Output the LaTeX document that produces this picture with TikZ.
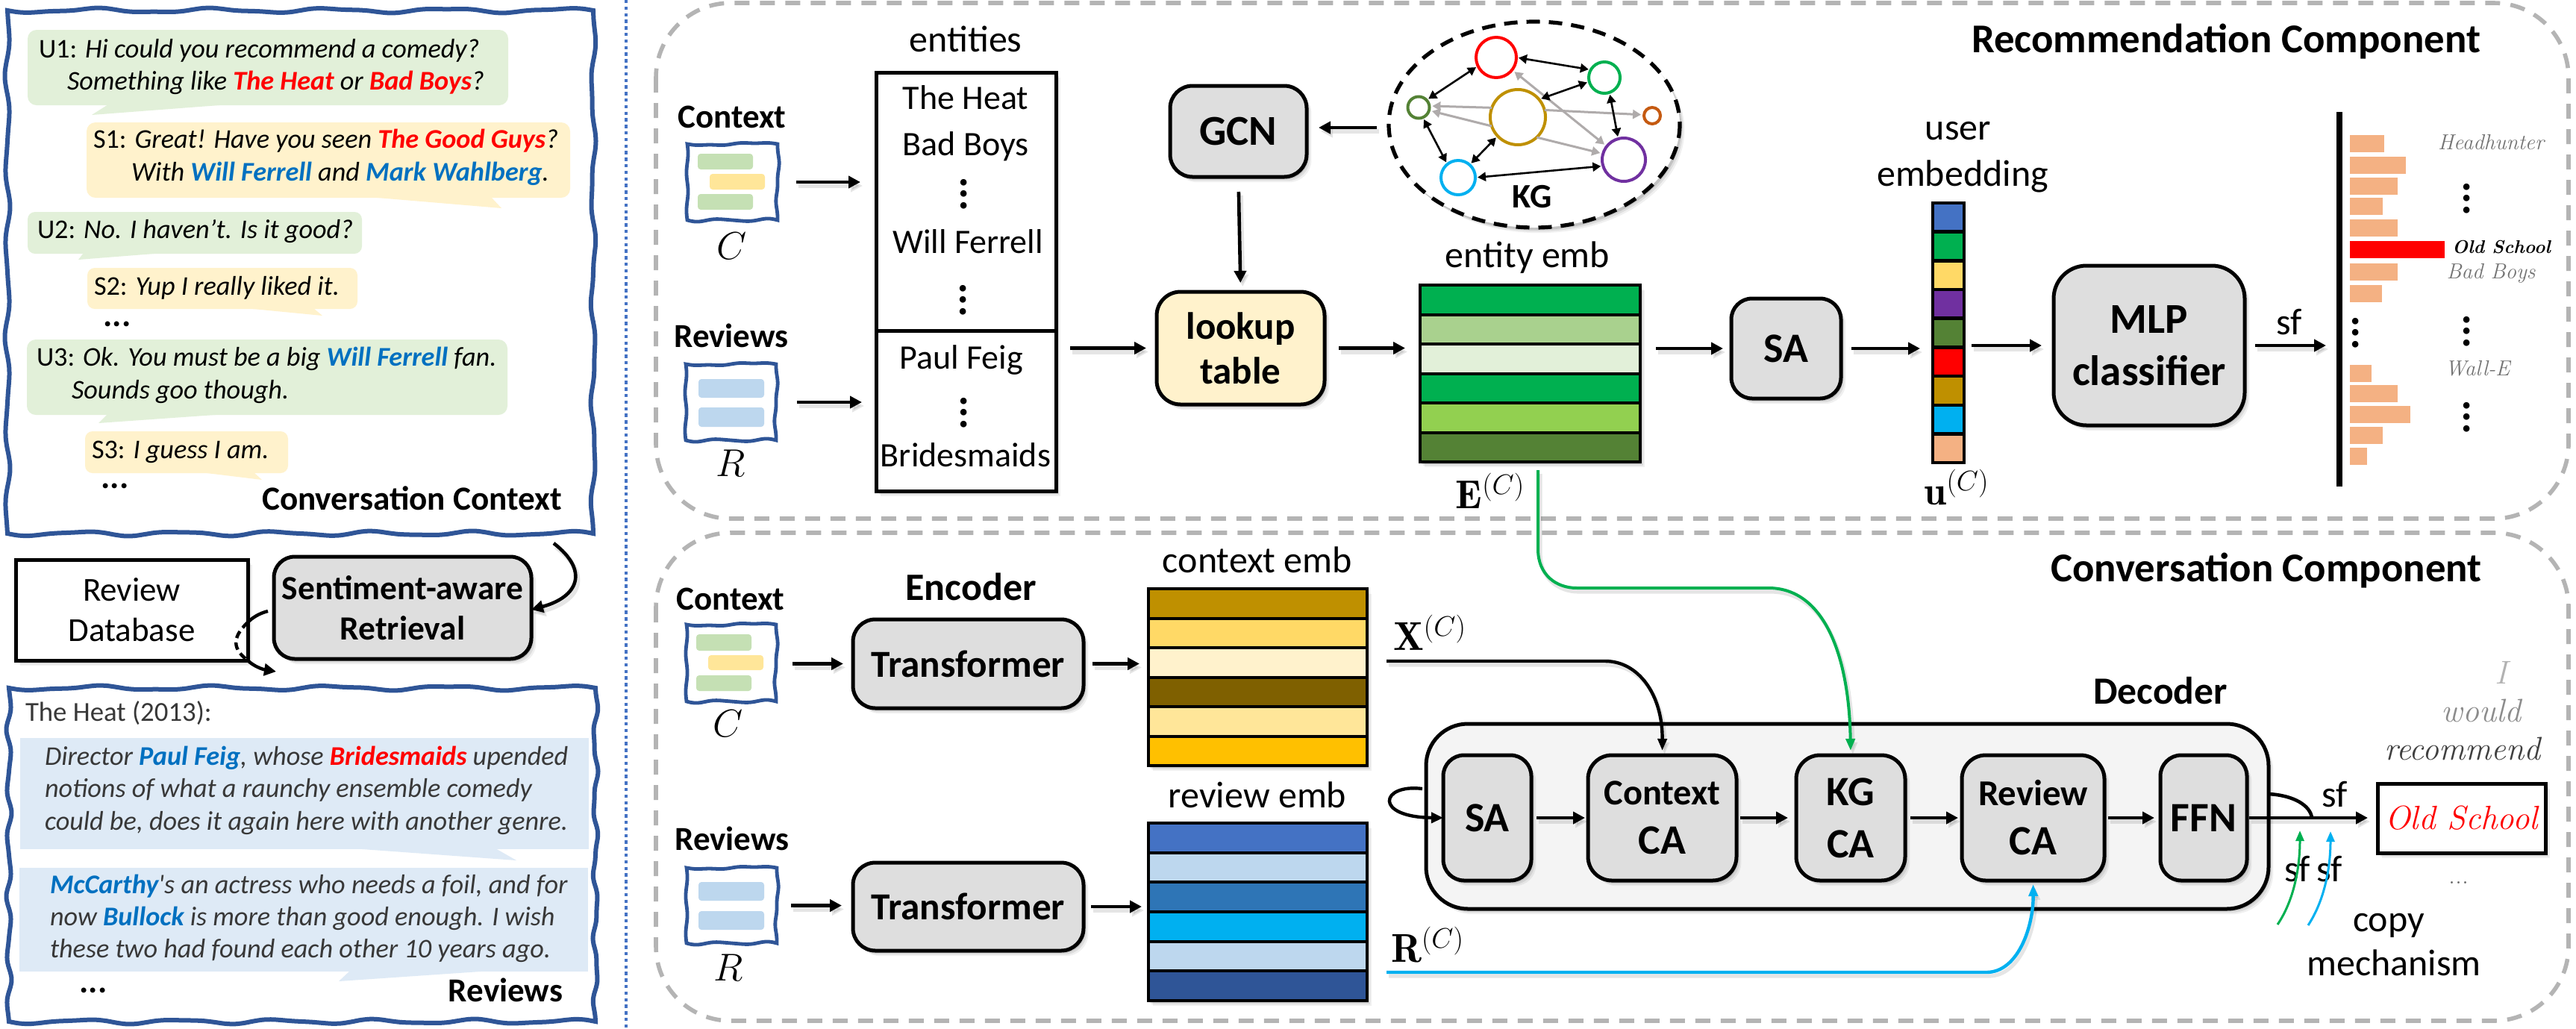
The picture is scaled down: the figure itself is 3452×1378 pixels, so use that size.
\RequirePackage{fix-cm}
\documentclass[tikz,border=0pt]{standalone}
\usepackage{fontspec}
\usetikzlibrary{arrows.meta,shapes.geometric,calc}
\newfontfamily\cf{Carlito}
\newcommand\fs[1]{\fontsize{#1}{#1}\selectfont}
\definecolor{wavec}{HTML}{2F5597}
\definecolor{bgreen}{HTML}{E2F0D9}
\definecolor{byellow}{HTML}{FFF2CC}
\definecolor{bblue}{HTML}{DEEAF6}
\definecolor{igreen}{HTML}{C5E0B4}
\definecolor{iyellow}{HTML}{FFE699}
\definecolor{iblue}{HTML}{BDD7EE}
\definecolor{boxgray}{HTML}{DEDEDE}
\definecolor{decgray}{HTML}{F4F4F4}
\definecolor{dashc}{HTML}{B4B4B4}
\definecolor{lred}{HTML}{FF0000}
\definecolor{lblue}{HTML}{0070C0}
\definecolor{gA}{HTML}{00B050}\definecolor{gB}{HTML}{A9D18E}\definecolor{gC}{HTML}{E2F0D9}
\definecolor{gD}{HTML}{92D050}\definecolor{gE}{HTML}{548235}
\definecolor{yA}{HTML}{BF9000}\definecolor{yB}{HTML}{FFD966}\definecolor{yC}{HTML}{FFF2CC}
\definecolor{yD}{HTML}{7F6000}\definecolor{yE}{HTML}{FFE699}\definecolor{yF}{HTML}{FFC000}
\definecolor{bA}{HTML}{4472C4}\definecolor{bB}{HTML}{BDD7EE}\definecolor{bC}{HTML}{2E75B6}
\definecolor{bD}{HTML}{00B0F0}\definecolor{bE}{HTML}{2F5597}
\definecolor{pur}{HTML}{7030A0}\definecolor{peach}{HTML}{F4B183}\definecolor{orng}{HTML}{C55A11}
\definecolor{kgray}{HTML}{AFABAB}
\newcommand\rr[1]{\textcolor{lred}{\bfseries #1}}
\newcommand\bb[1]{\textcolor{lblue}{\bfseries #1}}
\tikzset{
 softshadow/.style={
  preaction={fill=black,draw=none,opacity=.06,transform canvas={shift={(3.2pt,-3.6pt)}}},
  preaction={fill=black,draw=none,opacity=.08,transform canvas={shift={(2.2pt,-2.6pt)}}},
  preaction={fill=black,draw=none,opacity=.12,transform canvas={shift={(1.2pt,-1.6pt)}}}},
 tx/.style={inner sep=0pt,outer sep=0pt,anchor=base,yshift={-#1*.233pt},font=\cf\fs{#1}},
 txb/.style={inner sep=0pt,outer sep=0pt,anchor=base,yshift={-#1*.233pt},font=\cf\bfseries\fs{#1}},
 ltx/.style={inner sep=0pt,outer sep=0pt,anchor=base west,yshift=-4.1pt,font=\cf\itshape\fs{18.1}},
 rtx/.style={inner sep=0pt,outer sep=0pt,anchor=base west,yshift=-4.1pt,font=\cf\itshape\fs{18.1},text=black!78},
 dots/.style={inner sep=0pt,outer sep=0pt,anchor=center,font=\cf\bfseries\fs{23}},
 vd/.style={inner sep=0pt,outer sep=0pt,anchor=center,rotate=90,font=\cf\bfseries\fs{29}},
 mth/.style={inner sep=0pt,outer sep=0pt,anchor=center,font=\fs{#1}},
 glab/.style={inner sep=0pt,outer sep=0pt,anchor=base,yshift={-#1*.215pt},font=\itshape\fs{#1}},
 box/.style={rectangle,rounded corners=#1,draw=black,line width=2.5pt,fill=boxgray,inner sep=0pt,outer sep=0pt,align=center,softshadow},
 plainbox/.style={rectangle,draw=black,line width=2.5pt,fill=white,inner sep=0pt,outer sep=0pt,align=center,softshadow},
 dashbox/.style={draw=dashc,line width=2.8pt,dash pattern=on 10pt off 7pt,rounded corners=50pt},
 wave/.style={draw=wavec,line width=#1,fill=white},
 arr/.style={-{Stealth[length=8pt,width=8pt,inset=0pt]},line width=2.3pt,draw=black,
   preaction={draw=black,opacity=.10,line width=3pt,transform canvas={shift={(1.5pt,-2.5pt)}}}},
 carr/.style={-{Stealth[length=8pt,width=6pt,inset=0pt]},line width=#1,
   preaction={draw=black,opacity=.10,line width=2.6pt,transform canvas={shift={(1.5pt,-2.5pt)}}}},
 kgc/.style={circle,draw=#1,line width=2pt,inner sep=0pt,outer sep=0pt},
 kgb/.style={{Stealth[length=5.5pt,width=6pt,inset=0pt]}-{Stealth[length=5.5pt,width=6pt,inset=0pt]},line width=1.3pt,draw=black,shorten <=1.5pt,shorten >=1.5pt},
 kgg/.style={-{Stealth[length=5.5pt,width=6pt,inset=0pt]},line width=1.5pt,draw=kgray,shorten >=2pt},
}
\newcommand\bx[7][]{\node[#7,minimum width={(#4-#2)*.5pt},minimum height={(#5-#3)*.5pt},#1] (#6) at ({(#2+#4)/2},{(#3+#5)/2})}
\newcommand\wavy[8]{%
 \node[inner sep=0pt,outer sep=0pt,minimum width={(#4-#2)*.5pt},minimum height={(#5-#3)*.5pt}] (#1) at ({(#2+#4)/2},{(#3+#5)/2}) {};
 \draw[wave=#8,line join=miter]
  plot[smooth,domain=0:1,samples=61] ({#2+(#4-#2)*\x},{#3+#6*(sin(360*#7*\x)+.35*sin(360*(2*#7+1)*\x))})
  -- plot[smooth,domain=0:1,samples=61] ({#4+#6*(sin(360*#7*\x)-.35*sin(360*(2*#7+1)*\x))},{#3+(#5-#3)*\x})
  -- plot[smooth,domain=0:1,samples=61] ({#4-(#4-#2)*\x},{#5-#6*(sin(360*(#7+1)*\x)+.35*sin(360*(2*#7+1)*\x))})
  -- plot[smooth,domain=0:1,samples=61] ({#2-#6*(sin(360*(#7+1)*\x)-.35*sin(360*(2*#7)*\x))},{#5-(#5-#3)*\x}) -- cycle;}
\newcommand\bub[9]{\fill[#1,rounded corners=#2] (#3,#4) rectangle (#5,#6);
 \def\bubA{#1}\def\bubY{#6}\def\bubT{#7}\def\bubX{#8}\def\bubZ{#9}\bubtail}
\newcommand\bubtail[1]{\fill[\bubA] (\bubT,{\bubY-1}) -- (\bubX,\bubZ) -- (#1,{\bubY-1}) -- cycle;}
\newcommand\hstack[6]{%
 \bx{#2}{#3}{#4}{#5}{#1}{draw=black,line width=2pt,fill=white,inner sep=0pt,outer sep=0pt,softshadow}{};
 \foreach \c [count=\i from 0] in {#6}{\draw[draw=black,line width=2pt,fill=\c]
   (#2,{#3+\i*(#5-#3)/6}) rectangle (#4,{#3+(\i+1)*(#5-#3)/6});}}
\begin{document}
\begin{tikzpicture}[x=.5pt,y=-.5pt]
\useasboundingbox (0,0) rectangle (3452,1378);
\fill[white] (0,0) rectangle (3452,1378);
% ---------- left panel ----------
\wavy{convbox}{10}{14}{795}{715}{2.6}{5}{3pt}
\bub{bgreen}{6pt}{37}{40}{681}{141}{145}{123}{154}{307}
\bub{byellow}{6pt}{116}{164}{764}{265}{494}{672}{279}{658}
\bub{bgreen}{5pt}{37}{284}{485}{340}{112}{105}{348}{219}
\bub{byellow}{5pt}{117}{359}{479}{414}{329}{432}{423}{420}
\bub{bgreen}{6pt}{36}{455}{680}{556}{144}{132}{567}{302}
\bub{byellow}{5pt}{114}{578}{386}{634}{269}{351}{643}{340}
\node[ltx] (u1a) at (52,69) {\upshape U1: \itshape Hi could you recommend a comedy?};
\node[ltx] (u1b) at (90,112) {Something like \rr{The Heat} or \rr{Bad Boys}?};
\node[ltx] (s1a) at (125,190) {\upshape S1: \itshape Great! Have you seen \rr{The Good Guys}?};
\node[ltx] (s1b) at (176,234) {With \bb{Will Ferrell} and \bb{Mark Wahlberg}.};
\node[ltx] (u2) at (50,311) {\upshape U2: \itshape No. I haven’t. Is it good?};
\node[ltx] (s2) at (126,387) {\upshape S2: \itshape Yup I really liked it.};
\node[dots] (d1) at (157,434) {...};
\node[ltx] (u3a) at (49,482) {\upshape U3: \itshape Ok. You must be a big \bb{Will Ferrell} fan.};
\node[ltx] (u3b) at (96,526) {Sounds goo though.};
\node[ltx] (s3) at (123,606) {\upshape S3: \itshape I guess I am.};
\node[dots] (d2) at (154,651) {...};
\node[txb=22.6,anchor=base east] (convlab) at (753,673) {Conversation Context};
\bx{21}{750}{332}{885}{dbbox}{plainbox,font=\cf\fontsize{22.5}{27pt}\selectfont}{Review\\[0pt]Database};
\bx{367}{746}{712}{883}{retr}{box=14pt,font=\cf\bfseries\fontsize{22.7}{27pt}\selectfont}{Sentiment-aware\\[0pt]Retrieval};
\coordinate (ra) at (742,728);
\draw[arr,preaction={draw=none}] (ra) .. controls (790,765) and (775,800) .. (retr.east|-0,817);
\coordinate (rb) at (359,819);
\coordinate (rc) at (332,834);
\coordinate (rd) at (332,885);
\coordinate (re) at (370,900);
\draw[line width=2.2pt] (rb) .. controls (347,822) and (338,828) .. (rc);
\draw[line width=2.2pt,dash pattern=on 5pt off 3pt] (rc) .. controls (310,855) and (312,870) .. (rd);
\draw[line width=2.2pt,-{Stealth[length=8pt,width=8pt,inset=0pt]}] (rd) .. controls (340,893) and (352,897) .. (re);
\wavy{revbox}{12}{922}{798}{1369}{2.6}{5}{3pt}
\bub{bblue}{0pt}{27}{989}{789}{1138}{472}{692}{1153}{664}
\bub{bblue}{0pt}{26}{1163}{788}{1302}{469}{454}{1315}{658}
\node[tx=18.4,anchor=base west,text=black!78] (heat) at (34,958) {The Heat (2013):};
\node[rtx] (r1) at (60,1017) {Director \bb{Paul Feig}, whose \rr{Bridesmaids} upended};
\node[rtx] (r2) at (60,1060) {notions of what a raunchy ensemble comedy};
\node[rtx] (r3) at (60,1104) {could be, does it again here with another genre.};
\node[rtx] (r4) at (67,1189) {\bb{McCarthy}'s an actress who needs a foil, and for};
\node[rtx] (r5) at (67,1232) {now \bb{Bullock} is more than good enough. I wish};
\node[rtx] (r6) at (67,1275) {these two had found each other 10 years ago.};
\node[dots] (d3) at (125,1327) {...};
\node[txb=22.5,anchor=base east] (revlab) at (754,1332) {Reviews};
\coordinate (sepa) at (839,0);\coordinate (sepb) at (839,1378);
\draw[draw=bA,line width=2.2pt,dash pattern=on 2.2pt off 2.2pt] (sepa) -- (sepb);
% ---------- dashed component frames ----------
\draw[dashbox] (879,4) rectangle (3442,695);
\draw[dashbox] (879,714) rectangle (3442,1368);
\node[txb=27.4] (rectitle) at (2983,58) {Recommendation Component};
\node[txb=27.4] (contitle) at (3037,767) {Conversation Component};
% ---------- recommendation component ----------
\node[txb=22.5] (lc1) at (981,161) {Context};
\wavy{ic1}{921}{193}{1042}{295}{1.6}{1}{2.4pt}
\fill[igreen,rounded corners=2pt] (935,206) rectangle (1009,227);
\fill[iyellow,rounded corners=2pt] (951,233) rectangle (1025,254);
\fill[igreen,rounded corners=2pt] (935,260) rectangle (1009,281);
\node[mth=26] (c1) at (981,330) {$C$};
\node[txb=22.5] (lr1) at (980,455) {Reviews};
\wavy{ir1}{919}{488}{1040}{590}{1.6}{1}{2.4pt}
\fill[iblue,rounded corners=2pt] (936,508) rectangle (1024,533);
\fill[iblue,rounded corners=2pt] (936,546) rectangle (1024,572);
\node[mth=26] (r1m) at (979,621) {$R$};
\node[tx=25] (entl) at (1294,58) {entities};
\bx{1174}{97}{1415}{658}{ents}{plainbox}{};
\coordinate (diva) at (1174,443);\coordinate (divb) at (1415,443);
\draw[line width=2.5pt] (diva) -- (divb);
\node[tx=23] (e1) at (1294,136) {The Heat};
\node[tx=23] (e2) at (1294,198) {Bad Boys};
\node[vd] (e3) at (1292,260) {...};
\node[tx=23] (e4) at (1297,329) {Will Ferrell};
\node[vd] (e5) at (1291,402) {...};
\node[tx=23] (e6) at (1288,484) {Paul Feig};
\node[vd] (e7) at (1292,553) {...};
\node[tx=23] (e8) at (1294,615) {Bridesmaids};
\bx{1550}{391}{1775}{542}{lookup}{box=16pt,fill=byellow,font=\cf\bfseries\fontsize{25.5}{30pt}\selectfont}{lookup\\[0pt]table};
\bx{1568}{115}{1751}{237}{gcn}{box=15pt}{\cf\bfseries\fs{28.5}GCN};
\draw[arr,shorten <=12.5pt,shorten >=10.5pt] (ic1.east) -- (ic1.east-|ents.west);
\draw[arr,shorten <=14pt,shorten >=9.5pt] (ir1.east) -- (ir1.east-|ents.west);
\draw[arr,shorten <=9.5pt,shorten >=7pt] (lookup.west-|ents.east) -- (lookup.west);
\draw[arr,shorten <=10pt,shorten >=6pt] (gcn.south) -- (lookup.north);
% KG
\node[inner sep=0pt,outer sep=0pt,ellipse,minimum width=195pt,minimum height=138pt] (kg) at (2056,167) {};
\draw[draw=black,line width=2.6pt,dash pattern=on 9pt off 6pt,fill=white,softshadow] (2056,167) ellipse [x radius=195,y radius=138];
\node[kgc=lred,minimum size=27pt] (nred) at (2005,77) {};
\node[kgc=gA,minimum size=21pt] (ngrn) at (2150,104) {};
\node[kgc=yA,minimum size=37pt] (ngold) at (2034,157) {};
\node[kgc=gE,minimum size=14.5pt] (ndk) at (1901,144) {};
\node[kgc=orng,minimum size=11pt] (norg) at (2214,155) {};
\node[kgc=bD,minimum size=23pt] (nblu) at (1954,238) {};
\node[kgc=pur,minimum size=29pt] (npur) at (2176,214) {};
\draw[kgg] (ngold.160) -- (ndk.8);
\draw[kgg] (ngold.199) -- (ndk.344);
\draw[kgg] (ngold.15) -- (norg.174);
\draw[kgg] (ngold.313) -- (npur.164);
\draw[kgg,{Stealth[length=5.5pt,width=6pt,inset=0pt]}-{Stealth[length=5.5pt,width=6pt,inset=0pt]},shorten <=2pt] (nred.322) -- (npur.142);
\draw[kgb] (nred.0) -- (ngrn.150);
\draw[kgb] (nred.205) -- (ndk.43);
\draw[kgb] (ngold.40) -- (ngrn.195);
\draw[kgb] (ngrn.289) -- (npur.105);
\draw[kgb] (ndk.293) -- (nblu.129);
\draw[kgb] (ngold.223) -- (nblu.48);
\draw[kgb] (nblu.0) -- (npur.197);
\node[txb=23] (kgl) at (2053,268) {KG};
\draw[arr,shorten <=8pt,shorten >=8pt] ([yshift=2.5pt]gcn.east-|kg.west) -- ([yshift=2.5pt]gcn.east);
% entity emb
\node[tx=25] (entembl) at (2047,347) {entity emb};
\hstack{entemb}{1903}{382}{2198}{619}{gA,gB,gC,gA,gD,gE}
\node[mth=27] (ecl) at (1997,658) {$\mathbf{E}^{(C)}$};
\draw[arr,shorten <=9.5pt,shorten >=10pt] (lookup.east) -- (lookup.east-|entemb.west);
\bx{2320}{400}{2467}{534}{sarec}{box=14pt}{\cf\bfseries\fs{28}SA};
\draw[arr,shorten <=10.5pt,shorten >=5.5pt] (sarec.west-|entemb.east) -- (sarec.west);
% user embedding
\node[tx=25] (ul1) at (2624,176) {user};
\node[tx=25] (ul2) at (2630,238) {embedding};
\bx{2590}{272}{2632}{620}{uemb}{draw=black,line width=2pt,fill=white,inner sep=0pt,outer sep=0pt}{};
\foreach \c [count=\i from 0] in {bA,gA,yB,pur,gE,lred,yA,bD,peach}{\draw[draw=black,line width=2.2pt,fill=\c] (2590,{272+\i*38.67}) rectangle (2632,{272+(\i+1)*38.67});}
\node[mth=27] (ucl) at (2622,653) {$\mathbf{u}^{(C)}$};
\draw[arr,shorten <=7pt,shorten >=8.5pt] (sarec.east) -- (sarec.east-|uemb.west);
\bx{2752}{356}{3008}{570}{mlp}{box=22pt,font=\cf\bfseries\fontsize{28.5}{35pt}\selectfont}{MLP\\[0pt]classifier};
\draw[arr,shorten <=5pt,shorten >=8pt] (mlp.west-|uemb.east) -- (mlp.west);
\bx{3131}{150}{3139}{652}{barl}{fill=black,inner sep=0pt,outer sep=0pt}{};
\draw[arr,shorten <=7pt,shorten >=7pt] (mlp.east) -- (mlp.east-|barl.west);
\node[tx=25] (sfr) at (3068,437) {sf};
\foreach \ya/\xr in {181/3195,210/3224,238/3213,265/3193,294/3213,353/3213,382/3192,489/3178,516/3213,544/3230,572/3193,600/3172}{\fill[peach] (3149,\ya) rectangle (\xr,\ya+23);}
\fill[lred] (3149,323) rectangle (3276,346);
\node[glab=14.5,text=black!55] (hh) at (3338,194) {Headhunter};
\node[glab=14.5,text=black,font=\bfseries\itshape\fs{12.3}] (os) at (3352,333) {Old School};
\node[glab=14.5,text=black!55] (bbo) at (3338,367) {Bad Boys};
\node[glab=14.5,text=black!55] (we) at (3320,497) {Wall-E};
\node[vd] (v1) at (3306,266) {...};
\node[vd] (v2) at (3157,446) {...};
\node[vd] (v3) at (3306,444) {...};
\node[vd] (v4) at (3306,559) {...};
% ---------- conversation component ----------
\node[txb=22.5] (lc2) at (979,807) {Context};
\wavy{ic2}{920}{837}{1040}{940}{1.6}{1}{2.4pt}
\fill[igreen,rounded corners=2pt] (933,850) rectangle (1007,872);
\fill[iyellow,rounded corners=2pt] (949,878) rectangle (1023,898);
\fill[igreen,rounded corners=2pt] (933,905) rectangle (1007,926);
\node[mth=26] (c2) at (976,970) {$C$};
\node[txb=22.5] (lr2) at (981,1129) {Reviews};
\wavy{ir2}{920}{1163}{1041}{1264}{1.6}{1}{2.4pt}
\fill[iblue,rounded corners=2pt] (936,1182) rectangle (1024,1207);
\fill[iblue,rounded corners=2pt] (936,1221) rectangle (1024,1246);
\node[mth=26] (r2m) at (976,1297) {$R$};
\node[txb=26] (encl) at (1301,792) {Encoder};
\bx{1143}{830}{1452}{949}{tr1}{box=15pt}{\cf\bfseries\fs{25.6}Transformer};
\bx{1143}{1156}{1452}{1274}{tr2}{box=15pt}{\cf\bfseries\fs{25.6}Transformer};
\draw[arr,shorten <=11pt,shorten >=6.5pt] (ic2.east|-tr1.west) -- (tr1.west);
\draw[arr,shorten <=9.5pt,shorten >=7.5pt] (ir2.east) -- (ir2.east-|tr2.west);
\node[tx=25] (cel) at (1685,756) {context emb};
\hstack{cemb}{1539}{789}{1832}{1026}{yA,yB,yC,yD,yE,yF}
\node[tx=25] (rel) at (1685,1071) {review emb};
\hstack{remb}{1539}{1103}{1832}{1341}{bA,bB,bC,bD,bB,bE}
\draw[arr,shorten <=6pt,shorten >=6pt] (tr1.east) -- (tr1.east-|cemb.west);
\draw[arr,shorten <=5pt,shorten >=4.5pt] (tr2.east) -- (tr2.east-|remb.west);
\node[mth=27] (xcl) at (1916,848) {$\mathbf{X}^{(C)}$};
\node[mth=27] (rcl) at (1913,1266) {$\mathbf{R}^{(C)}$};
\bx{1911}{970}{3040}{1218}{dec}{box=28pt,fill=decgray}{};
\node[txb=25.8] (decl) at (2895,931) {Decoder};
\bx{1934}{1012}{2052}{1180}{sa}{box=14pt}{\cf\bfseries\fs{28}SA};
\bx{2128}{1012}{2327}{1180}{cca}{box=16pt,font=\cf\bfseries\fontsize{24.2}{33pt}\selectfont}{Context\\[0pt]\fs{28}CA};
\bx{2407}{1012}{2553}{1180}{kgca}{box=16pt,font=\cf\bfseries\fontsize{28}{35pt}\selectfont}{KG\\[0pt]CA};
\bx{2629}{1012}{2820}{1180}{rca}{box=16pt,font=\cf\bfseries\fontsize{24.4}{33pt}\selectfont}{Review\\[0pt]\fs{28}CA};
\bx{2895}{1012}{3011}{1180}{ffn}{box=14pt}{\cf\bfseries\fs{28}FFN};
\draw[arr,shorten <=3.5pt,shorten >=2pt] (sa.east) -- (sa.east-|cca.west);
\draw[arr,shorten <=2.5pt,shorten >=5.5pt] (cca.east) -- (cca.east-|kgca.west);
\draw[arr,shorten <=3.5pt,shorten >=2.5pt] (kgca.east) -- (kgca.east-|rca.west);
\draw[arr,shorten <=2.5pt,shorten >=4pt] (rca.east) -- (rca.east-|ffn.west);
\bx{3186}{1050}{3411}{1143}{old}{plainbox}{\itshape\fs{22.5}\textcolor{lred}{Old School}};
\draw[arr,shorten <=1.5pt,shorten >=6.5pt] (ffn.east) -- (ffn.east-|old.west);
\coordinate (ffnarc) at (3040,1064);\coordinate (ffnarcb) at (3098,1096);
\draw[line width=2.3pt] (ffnarc) .. controls (3075,1066) and (3096,1080) .. (ffnarcb);
\node[tx=25] (sf1) at (3129,1070) {sf};
\node[tx=25] (sf2) at (3079,1170) {sf};
\node[tx=25] (sf3) at (3122,1170) {sf};
\node[glab=22,text=black!30] (w1) at (3352,907) {I};
\node[glab=22,text=black!45] (w2) at (3325,958) {would};
\node[glab=22,text=black!75] (w3) at (3300,1009) {recommend};
\node[dots,font=\fs{18},text=black!60] (w4) at (3295,1183) {...};
\node[tx=25] (copy) at (3201,1237) {copy};
\node[tx=25] (mech) at (3208,1296) {mechanism};
% curved connectors
\coordinate (gs) at (2061,630);
\draw[carr=2pt,draw=gA,-{Stealth[length=8pt,width=6pt,inset=0pt,fill=gA]},shorten >=3pt] (gs) -- (2061,736) .. controls (2061,770) and (2085,788) .. (2113,788) -- (2370,788) .. controls (2445,788) and (2478,880) .. (kgca.north);
\coordinate (xs) at (1858,886);
\draw[carr=2.2pt,draw=black,shorten >=3pt] (xs) -- (2151,886) .. controls (2195,886) and (2228,930) .. (cca.north);
\coordinate (bs) at (1858,1303);
\draw[carr=2.2pt,draw=bD,shorten >=2.5pt] (bs) -- (2662,1303) .. controls (2705,1303) and (2725,1240) .. (rca.south);
\coordinate (ls) at (1906,1057);
\draw[-{Stealth[length=8pt,width=7pt,inset=0pt]},line width=2.2pt] (ls) .. controls (1850,1050) and (1840,1095) .. (sa.west);
\coordinate (ga) at (3052,1239);\coordinate (gb) at (3082,1113);
\draw[-{Stealth[length=7pt,width=5.5pt,inset=0pt]},line width=1.5pt,draw=gA] (ga) .. controls (3075,1205) and (3082,1160) .. (gb);
\coordinate (ba) at (3093,1240);\coordinate (bc) at (3123,1114);
\draw[-{Stealth[length=7pt,width=5.5pt,inset=0pt]},line width=1.5pt,draw=bD] (ba) .. controls (3116,1205) and (3123,1160) .. (bc);
\end{tikzpicture}
\end{document}
